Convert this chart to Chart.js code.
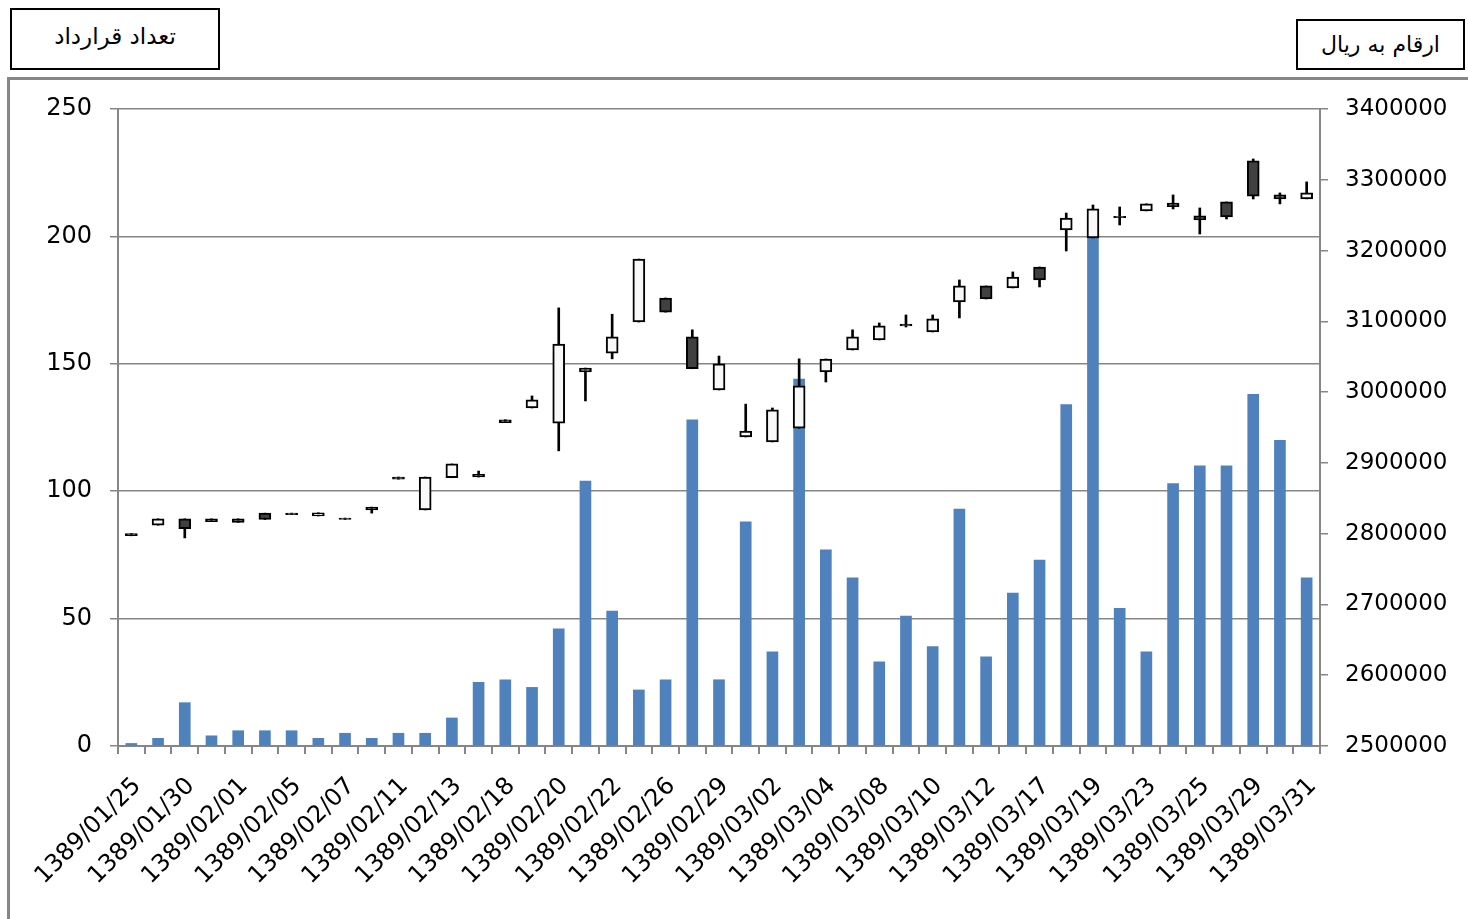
<!DOCTYPE html>
<html>
<head>
<meta charset="utf-8">
<script src="https://cdn.jsdelivr.net/npm/chart.js@4.4.1/dist/chart.umd.min.js"></script>
<style>
  html, body { margin:0; padding:0; background:#fff; overflow:hidden; }
  #wrap { position:relative; width:1468px; height:919px; }
  #frame { position:absolute; left:7px; top:77px; width:1500px; height:900px; border:3px solid #868686; box-sizing:border-box; }
  .title-box { position:absolute; border:2px solid #000; box-sizing:border-box; background:#fff;
    font-family:"DejaVu Sans", "Noto Sans", sans-serif; color:#000;
    display:flex; align-items:center; justify-content:center; }
  #chart { position:absolute; left:0; top:0; }
</style>
</head>
<body>
<div id="wrap">
  <div id="frame"></div>
  <div class="title-box" dir="rtl" style="left:10px; top:8px; width:210px; height:62px; font-size:23px; padding-bottom:6px;">تعداد قرارداد</div>
  <div class="title-box" dir="rtl" style="left:1296px; top:19px; width:169px; height:51px; font-size:22px;">ارقام به ریال</div>
  <canvas id="chart" width="1468" height="919"></canvas>
</div>
<script>
// trading days (every other one is labelled on the axis)
const dates = [
  '1389/01/25','1389/01/28','1389/01/30','1389/01/31','1389/02/01','1389/02/04',
  '1389/02/05','1389/02/06','1389/02/07','1389/02/08','1389/02/11','1389/02/12',
  '1389/02/13','1389/02/15','1389/02/18','1389/02/19','1389/02/20','1389/02/21',
  '1389/02/22','1389/02/25','1389/02/26','1389/02/27','1389/02/29','1389/02/30',
  '1389/03/02','1389/03/03','1389/03/04','1389/03/05','1389/03/08','1389/03/09',
  '1389/03/10','1389/03/11','1389/03/12','1389/03/16','1389/03/17','1389/03/18',
  '1389/03/19','1389/03/22','1389/03/23','1389/03/24','1389/03/25','1389/03/26',
  '1389/03/29','1389/03/30','1389/03/31'
];

// number of contracts (left axis)
const volume = [1,3,17,4,6,6,6,3,5,3,5,5,11,25,26,23,46,104,53,22,26,128,26,88,37,
  144,77,66,33,51,39,93,35,60,73,134,200,54,37,103,110,110,138,120,66];

// prices in rial (right axis)
const openP = [2800000,2812000,2821000,2821000,2821000,2829000,2829000,2825000,2822000,2837500,
  2880000,2833500,2879000,2884000,2961000,2977600,2956000,3028500,3055000,3099000,
  3133000,3078000,3003000,2936600,2929600,2949000,3028500,3059500,3073700,3096000,
  3085000,3127400,3150000,3147200,3176800,3229000,3217800,3248500,3256000,3267000,
  3249000,3268700,3326600,3278600,3273000];
const highP = [2800000,2821000,2821000,2821000,2821000,2829000,2829000,2829500,2822000,2837500,
  2880000,2880000,2898500,2888500,2961000,2994600,3119000,3034000,3110000,3188000,
  3133000,3088000,3051000,2983000,2977600,3047000,3046800,3088000,3097700,3109000,
  3109000,3158500,3150000,3169800,3176800,3253000,3264400,3261600,3266000,3278600,
  3260200,3268700,3329400,3281400,3297000];
const lowP = [2797000,2812000,2794000,2817000,2816000,2820000,2827000,2825000,2820000,2829000,
  2877000,2833500,2879000,2880000,2957000,2977600,2917000,2987500,3047000,3099000,
  3113000,3033000,3003000,2936600,2929600,2949000,3014300,3059500,3073700,3092000,
  3085000,3104800,3131600,3147200,3148600,3199400,3217800,3236200,3256000,3258800,
  3223400,3244600,3272900,3265900,3273000];
const closeP = [2797000,2821000,2807000,2817000,2816000,2820000,2827000,2829500,2820000,2833500,
  2877000,2880000,2898500,2880000,2957000,2989000,3068000,3034000,3078000,3188000,
  3113000,3033000,3040000,2945000,2974800,3008700,3046800,3078000,3093500,3093500,
  3103400,3150000,3131600,3162700,3158500,3246000,3258800,3246500,3266000,3262000,
  3243200,3247500,3277000,3273000,3281400];

const volTicks = [0, 50, 100, 150, 200, 250];
const priceTicks = [2500000, 3400000, 100000]; // min, max, step

const GRID = '#868686';
const bodyFill = dates.map((_, i) => closeP[i] >= openP[i] ? '#f8f8f8' : '#404040');

Chart.defaults.font.family = '"DejaVu Sans", sans-serif';
Chart.defaults.color = '#000';

new Chart(document.getElementById('chart'), {
  type: 'bar',
  data: {
    labels: dates,
    datasets: [
      {
        label: 'candle body', yAxisID: 'y1', order: 1, grouped: false,
        data: dates.map((_, i) => [openP[i], closeP[i]]),
        backgroundColor: bodyFill, borderColor: '#000', borderWidth: 2,
        borderSkipped: false, barThickness: 12
      },
      {
        label: 'wick', yAxisID: 'y1', order: 2, grouped: false,
        data: dates.map((_, i) => [lowP[i], highP[i]]),
        backgroundColor: '#000', borderWidth: 0, barThickness: 2
      },
      {
        label: 'volume', yAxisID: 'y', order: 3, grouped: false,
        data: volume, backgroundColor: '#4f81bd', barThickness: 11
      }
    ]
  },
  options: {
    responsive: false, animation: false,
    layout: { padding: { top: 109, left: 0, right: 0, bottom: 0 } },
    plugins: { legend: { display: false }, tooltip: { enabled: false } },
    scales: {
      x: {
        afterFit: s => { s.height = 173; },
        grid: { offset: true, drawOnChartArea: false, tickLength: 8, color: GRID, lineWidth: 2 },
        border: { color: GRID, width: 2 },
        ticks: {
          autoSkip: false, maxRotation: 45, minRotation: 45, padding: 18, labelOffset: 6,
          font: { size: 24 },
          callback: (v, i) => i % 2 === 0 ? dates[i] : ''
        }
      },
      y: {
        position: 'left', min: volTicks[0], max: volTicks[volTicks.length - 1],
        afterFit: s => { s.width = 118; },
        afterBuildTicks: s => { s.ticks = volTicks.map(v => ({ value: v })); },
        grid: { color: GRID, lineWidth: 1.5, tickLength: 8 },
        border: { color: GRID, width: 2 },
        ticks: { padding: 18, font: { size: 24 } }
      },
      y1: {
        position: 'right', min: priceTicks[0], max: priceTicks[1],
        afterFit: s => { s.width = 148; },
        grid: { drawOnChartArea: false, color: GRID, lineWidth: 1.5, tickLength: 8 },
        border: { color: GRID, width: 2 },
        ticks: { stepSize: priceTicks[2], padding: 17, font: { size: 23 }, callback: v => String(v) }
      }
    }
  }
});
</script>
</body>
</html>
